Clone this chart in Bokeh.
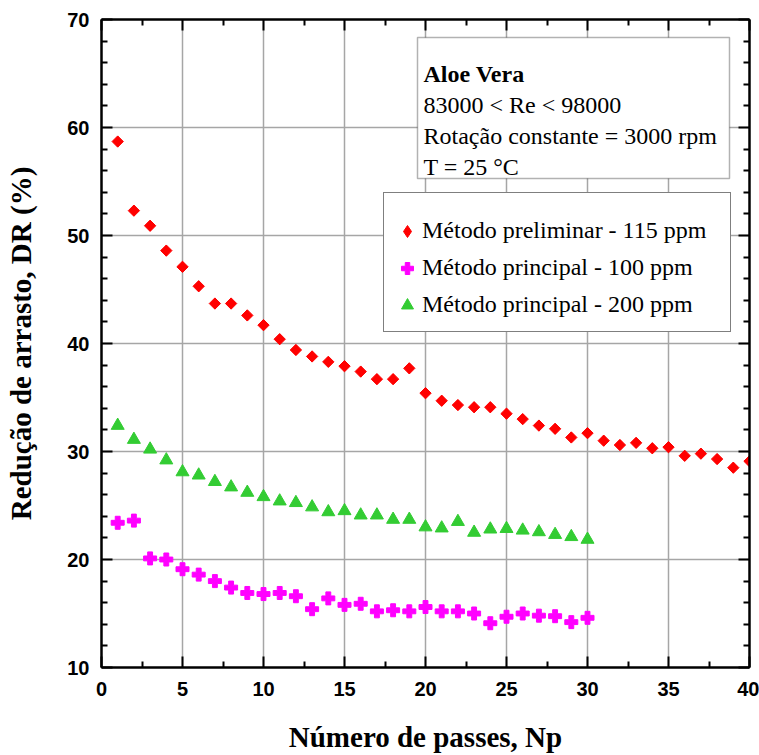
import math
from bokeh.plotting import figure
from bokeh.models import (Range1d, FixedTicker, LinearAxis, Label, Legend, LegendItem,
                          BoxAnnotation, CustomJSTickFormatter)
from bokeh.embed import file_html
from bokeh.resources import INLINE

# ---------------- data ----------------
passes_pre = list(range(1, 41))
dr_pre = [58.7, 52.3, 50.9, 48.6, 47.1, 45.3, 43.7, 43.7, 42.6, 41.7,
          40.4, 39.4, 38.8, 38.3, 37.9, 37.4, 36.7, 36.7, 37.7, 35.4,
          34.7, 34.3, 34.1, 34.1, 33.5, 33.0, 32.4, 32.1, 31.3, 31.7,
          31.0, 30.6, 30.8, 30.3, 30.4, 29.6, 29.8, 29.3, 28.5, 29.1]

passes_main = list(range(1, 31))
dr_100 = [23.4, 23.6, 20.1, 20.0, 19.1, 18.6, 18.0, 17.4, 16.9, 16.8,
          16.9, 16.6, 15.4, 16.4, 15.8, 15.9, 15.2, 15.3, 15.2, 15.6,
          15.2, 15.2, 15.0, 14.1, 14.7, 15.0, 14.8, 14.75, 14.2, 14.6]
dr_200 = [32.4, 31.1, 30.2, 29.2, 28.1, 27.8, 27.2, 26.7, 26.2, 25.8,
          25.4, 25.25, 24.85, 24.4, 24.5, 24.1, 24.1, 23.7, 23.7, 23.0,
          22.9, 23.5, 22.5, 22.8, 22.85, 22.7, 22.55, 22.3, 22.1, 21.85]

series_labels = ["Método preliminar - 115 ppm",
                 "Método principal - 100 ppm",
                 "Método principal - 200 ppm"]

x_title = "Número de passes, Np"
y_title = "Redução de arrasto, DR (%)"

x_major = [0, 5, 10, 15, 20, 25, 30, 35, 40]
x_minor = [2.5, 7.5, 12.5, 17.5, 22.5, 27.5, 32.5, 37.5]
y_major = [10, 20, 30, 40, 50, 60, 70]
y_minor = [v for v in range(12, 70, 2) if v % 10 != 0]

info_title = "Aloe Vera"
info_lines = ["83000 < Re < 98000", "Rotação constante = 3000 rpm", "T = 25 °C"]

# ---------------- layout ----------------
W, H = 759, 755
FL, FR, FT, FB = 101, 749, 19, 667
X_MIN, X_MAX, Y_MIN, Y_MAX = 0, 40, 10, 70


def px2x(px):
    return X_MIN + (px - FL) / (FR - FL) * (X_MAX - X_MIN)


def px2y(py):
    return Y_MAX - (py - FT) / (FB - FT) * (Y_MAX - Y_MIN)


p = figure(width=W, height=H, x_range=Range1d(X_MIN, X_MAX), y_range=Range1d(Y_MIN, Y_MAX),
           output_backend="svg", toolbar_location=None,
           min_border_left=FL, min_border_right=W - FR,
           min_border_top=FT, min_border_bottom=H - FB,
           background_fill_color="white", border_fill_color="white")
p.outline_line_color = "black"
p.outline_line_width = 1

xt = FixedTicker(ticks=x_major, minor_ticks=x_minor)
yt = FixedTicker(ticks=y_major, minor_ticks=y_minor)
p.xaxis.ticker = xt
p.yaxis.ticker = yt
p.xgrid.ticker = xt
p.ygrid.ticker = yt
for g in (p.xgrid[0], p.ygrid[0]):
    g.grid_line_color = "#a6a6a6"
    g.grid_line_width = 1.5


def style_axis(ax, labels):
    ax.axis_line_color = "black"
    ax.axis_line_width = 2.5
    ax.major_tick_in = 11
    ax.major_tick_out = 0
    ax.minor_tick_in = 6
    ax.minor_tick_out = 0
    ax.major_tick_line_width = 2
    ax.minor_tick_line_width = 2
    ax.major_tick_line_color = "black"
    ax.minor_tick_line_color = "black"
    if labels:
        ax.major_label_text_font = "Liberation Sans"
        ax.major_label_text_font_style = "bold"
        ax.major_label_text_font_size = "20px"
        ax.major_label_text_color = "black"
        ax.axis_label_text_font = "Liberation Serif"
        ax.axis_label_text_font_style = "bold"
        ax.axis_label_text_font_size = "29px"
        ax.axis_label_text_color = "black"
    else:
        ax.formatter = CustomJSTickFormatter(code="return ''")
        ax.major_label_text_font_size = "8px"
        ax.major_label_standoff = 0


style_axis(p.xaxis[0], True)
style_axis(p.yaxis[0], True)
p.xaxis[0].major_label_standoff = 14
p.yaxis[0].major_label_standoff = 12
p.xaxis[0].axis_label = x_title
p.xaxis[0].axis_label_standoff = 22
p.yaxis[0].axis_label = y_title
p.yaxis[0].axis_label_standoff = 27

right_ax = LinearAxis(ticker=yt)
top_ax = LinearAxis(ticker=xt)
style_axis(right_ax, False)
style_axis(top_ax, False)
p.add_layout(right_ax, "right")
p.add_layout(top_ax, "above")

# ---------------- glyphs ----------------
red_proxy = p.scatter(passes_pre, dr_pre, marker="diamond", size=10, color="red")
p.scatter(passes_pre, dr_pre, marker="square", size=8, angle=math.pi / 4, color="red")
mag = p.scatter(passes_main, dr_100, marker="plus", size=13, color="#ff00ff")
grn = p.scatter(passes_main, dr_200, marker="triangle", size=13, color="#33cc33")

# ---------------- info box ----------------
p.add_layout(BoxAnnotation(left=px2x(417), right=px2x(729), top=px2y(37), bottom=px2y(178),
                           fill_color="white", fill_alpha=1.0,
                           line_color="black", line_width=1.5))
p.add_layout(Label(x=px2x(423), y=px2y(73), text=info_title, text_font="Liberation Serif",
                   text_font_style="bold", text_font_size="24px", text_color="black",
                   text_baseline="alphabetic"))
for i, t in enumerate(info_lines):
    p.add_layout(Label(x=px2x(423), y=px2y(104 + 31 * i), text=t, text_font="Liberation Serif",
                       text_font_size="24px", text_color="black", text_baseline="alphabetic"))

# ---------------- legend ----------------
legend = Legend(items=[LegendItem(label=series_labels[0], renderers=[red_proxy]),
                       LegendItem(label=series_labels[1], renderers=[mag]),
                       LegendItem(label=series_labels[2], renderers=[grn])],
                location=(383 - FL, FB - 332),
                border_line_color="black", border_line_width=1.5,
                background_fill_color="white", background_fill_alpha=1.0,
                label_text_font="Liberation Serif", label_text_font_size="24px",
                label_text_color="black",
                glyph_width=30, glyph_height=34, label_height=37, label_width=300,
                label_standoff=0, padding=8, spacing=0, margin=0,
                title=" ", title_text_font_size="10px", title_standoff=0)
p.add_layout(legend)

open("out.html", "w").write(file_html(p, INLINE))
